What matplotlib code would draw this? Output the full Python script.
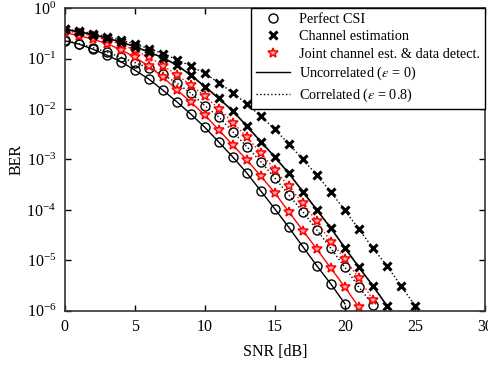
import matplotlib

matplotlib.use("Agg")
import matplotlib.pyplot as plt
from matplotlib.lines import Line2D

plt.rcParams["font.family"] = ["Liberation Serif", "DejaVu Serif"]
plt.rcParams["mathtext.fontset"] = "stix"
plt.rcParams["font.size"] = 11.5

# BER, one value per integer SNR step (dB)
perfect_uncorr = [0.225, 0.194, 0.154, 0.117, 0.0873, 0.0592, 0.0393, 0.0238, 0.01396, 0.00796,
                  0.00435, 0.00222, 0.00112, 5.4e-4, 2.38e-4, 1.05e-4, 4.5e-5, 1.87e-5, 7.8e-6,
                  3.4e-6, 1.38e-6]
perfect_corr = [0.232, 0.198, 0.165, 0.1345, 0.107, 0.0834, 0.0649, 0.0486, 0.0327, 0.0207,
                0.0117, 0.00695, 0.00355, 0.00179, 9.0e-4, 4.3e-4, 1.98e-4, 9.2e-5, 4.0e-5,
                1.73e-5, 7.3e-6, 2.95e-6, 1.32e-6]
joint_uncorr = [0.327, 0.285, 0.243, 0.198, 0.151, 0.107, 0.071, 0.0431, 0.0243, 0.01377,
                0.0076, 0.00384, 0.00194, 9.8e-4, 4.7e-4, 2.17e-4, 9.2e-5, 3.9e-5, 1.67e-5,
                7.0e-6, 2.94e-6, 1.18e-6]
joint_corr = [0.358, 0.320, 0.279, 0.238, 0.194, 0.147, 0.107, 0.0727, 0.0482, 0.0299,
              0.0181, 0.01023, 0.0054, 0.00279, 0.00135, 6.3e-4, 2.92e-4, 1.35e-4, 5.9e-5,
              2.35e-5, 1.07e-5, 4.4e-6, 1.66e-6]
chest_uncorr = [0.379, 0.340, 0.299, 0.255, 0.212, 0.173, 0.1345, 0.1047, 0.0743, 0.0471,
                0.0279, 0.0163, 0.00912, 0.0046, 0.00225, 0.00112, 5.3e-4, 2.3e-4, 1.0e-4,
                4.34e-5, 1.77e-5, 7.3e-6, 3.13e-6, 1.26e-6]
chest_corr = [0.384, 0.351, 0.313, 0.273, 0.232, 0.194, 0.158, 0.1256, 0.0955, 0.071,
              0.0509, 0.0332, 0.0210, 0.01256, 0.00726, 0.00396, 0.00203, 1.0e-3, 4.9e-4,
              2.27e-4, 9.8e-5, 4.15e-5, 1.75e-5, 7.8e-6, 3.13e-6, 1.27e-6]

legend_labels = ["Perfect CSI", "Channel estimation", "Joint channel est. & data detect.",
                 r"Uncorrelated ($\varepsilon$ = 0)", r"Correlated ($\varepsilon$ = 0.8)"]


def snr(vals):
    return list(range(len(vals)))


fig = plt.figure(figsize=(4.89, 3.67), dpi=100)
ax = fig.add_axes([0.132, 0.153, 0.860, 0.825])

circ = dict(marker="o", ms=6.5, mfc="none", mec="black", mew=1.0)
cross = dict(marker="x", ms=6, mec="black", mew=2.2)
star = dict(marker="*", ms=7.5, mfc="#ffb0b0", mec="red", mew=1.1)

ax.plot(snr(perfect_uncorr), perfect_uncorr, "-", color="black", lw=1.0, **circ)
ax.plot(snr(perfect_corr), perfect_corr, ":", color="black", lw=1.0, **circ)
ax.plot(snr(joint_uncorr), joint_uncorr, "-", color="red", lw=1.0, **star)
ax.plot(snr(joint_corr), joint_corr, ":", color="red", lw=1.0, **star)
ax.plot(snr(chest_uncorr), chest_uncorr, "-", color="black", lw=1.2, **cross)
ax.plot(snr(chest_corr), chest_corr, ":", color="black", lw=1.0, **cross)

ax.set_yscale("log")
ax.set_xlim(0, 30)
ax.set_ylim(1e-6, 1)
ax.set_xticks([0, 5, 10, 15, 20, 25, 30])
ax.minorticks_off()
ax.tick_params(direction="in", top=True, right=True, length=4, width=1, labelsize=11.5, pad=6)
for sp in ax.spines.values():
    sp.set_linewidth(1.2)
    sp.set_color("#333333")
ax.set_xlabel("SNR [dB]", labelpad=6)
ax.set_ylabel("BER", labelpad=1)

handles = [
    Line2D([], [], ls="none", **circ),
    Line2D([], [], ls="none", **cross),
    Line2D([], [], ls="none", **star),
    Line2D([], [], color="black", ls="-", lw=1.0),
    Line2D([], [], color="black", ls=":", lw=1.0),
]
leg = ax.legend(handles, legend_labels, loc="upper right", borderaxespad=0,
                fancybox=False, edgecolor="black", framealpha=1, borderpad=0.35,
                handlelength=2.4, labelspacing=0.3, handletextpad=0.6, fontsize=10.3)
leg.get_frame().set_linewidth(1.0)

fig.savefig("out.png", dpi=100)
